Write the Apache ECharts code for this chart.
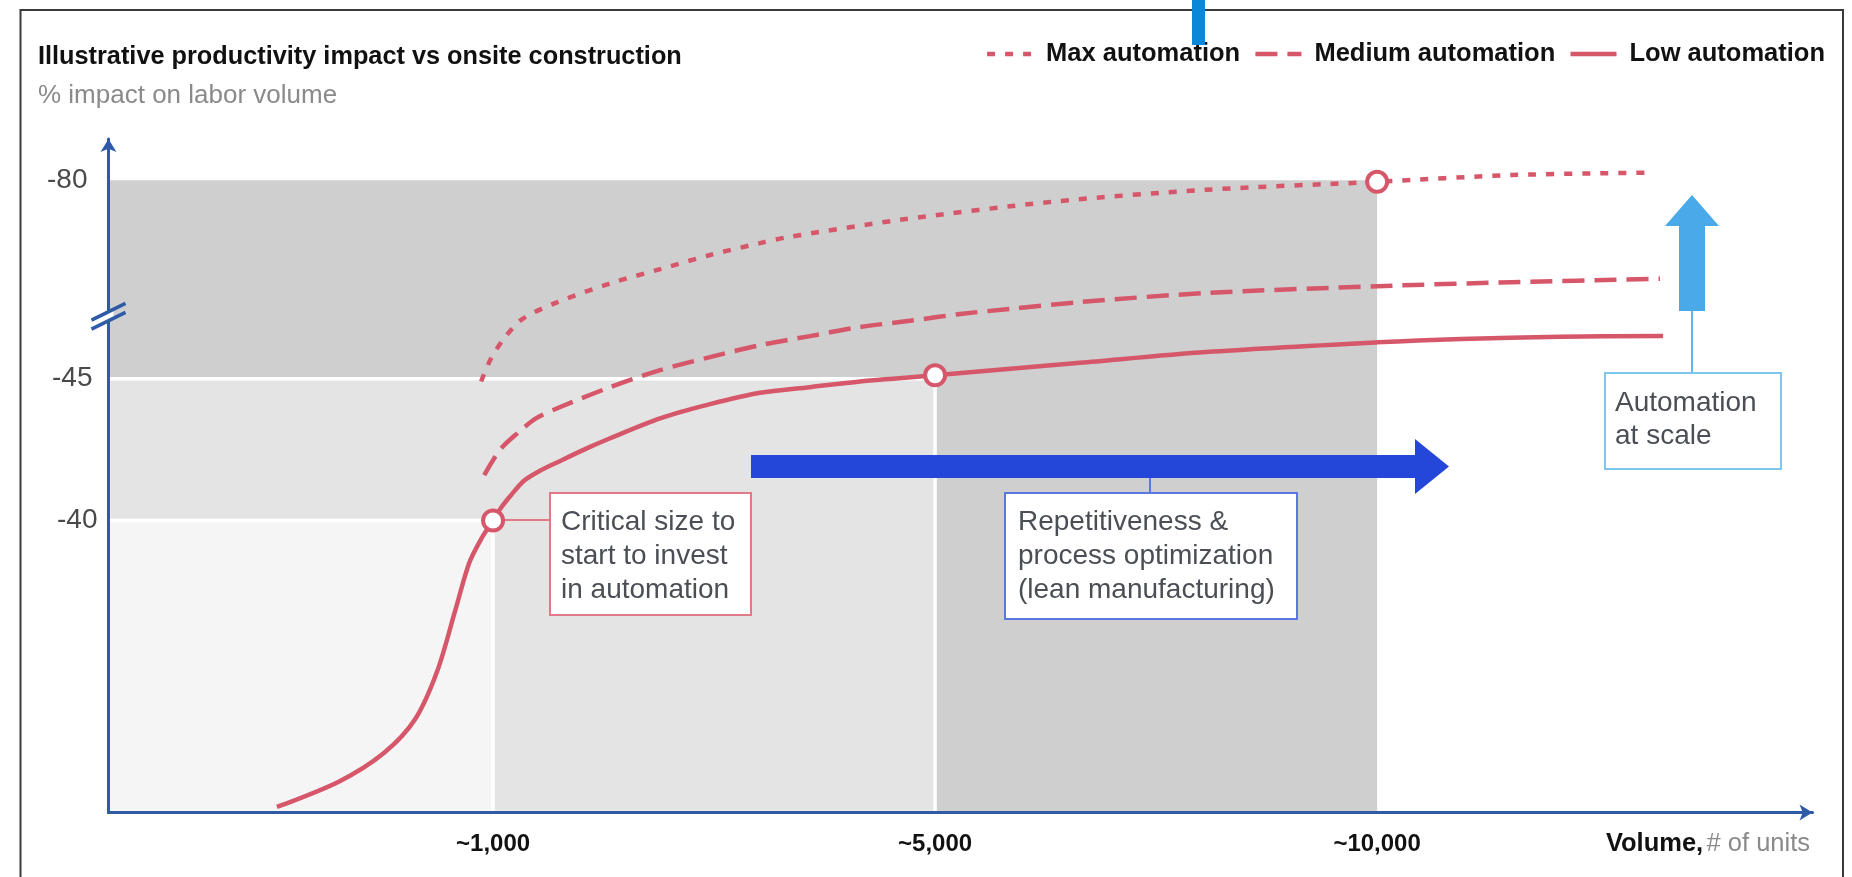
<!DOCTYPE html>
<html>
<head>
<meta charset="utf-8">
<script src="https://cdn.jsdelivr.net/npm/echarts@6/dist/echarts.min.js"></script>
<style>
html,body{margin:0;padding:0;background:#fff;}
#chart{width:1852px;height:877px;}
</style>
</head>
<body>
<div id="chart"></div>
<script>
// ---------- data ----------
const xTickValues = [1, 2, 3];
const xTickLabels = ['~1,000', '~5,000', '~10,000'];
const yTickValues = [-40, -45, -80];

const seriesNames = ['Max automation', 'Medium automation', 'Low automation'];

const maxX = [0.973, 0.995, 1.026, 1.066, 1.143, 1.265, 1.378, 1.491, 1.604, 1.663, 1.921, 2.267, 2.613, 3.0, 3.305, 3.611];
const maxY = [-44.9, -48.5, -52.2, -55.5, -58.4, -61.8, -64.3, -66.8, -68.9, -69.9, -73.0, -76.2, -78.3, -79.7, -80.9, -81.3];

const medX = [0.980, 1.016, 1.057, 1.097, 1.152, 1.265, 1.378, 1.491, 1.604, 1.717, 1.830, 1.943, 2.057, 2.170, 2.328, 2.613, 3.0, 3.305, 3.640];
const medY = [-41.6, -42.5, -43.1, -43.6, -44.0, -44.7, -46.5, -48.8, -50.9, -52.5, -54.1, -55.2, -56.4, -57.3, -58.5, -60.1, -61.3, -62.0, -62.6];

const lowX = [0.511, 0.652, 0.753, 0.824, 0.874, 0.914, 0.946, 0.975, 1.0, 1.018, 1.041, 1.070, 1.106, 1.152, 1.213, 1.265, 1.378, 1.491, 1.604, 1.717, 1.830, 1.905, 2.0, 2.131, 2.328, 2.613, 3.0, 3.190, 3.414, 3.647];
const lowY = [-29.9, -30.8, -31.8, -33.0, -34.7, -36.8, -38.5, -39.4, -40, -40.45, -40.9, -41.4, -41.75, -42.1, -42.55, -42.9, -43.6, -44.1, -44.5, -44.7, -44.9, -45.0, -45.6, -46.5, -47.8, -49.7, -51.4, -52.0, -52.4, -52.5];

const markerX = [1, 2, 3];
const markerY = [-40, -45.6, -79.7];

const zoneXEnd = [3, 2, 1];
const zoneYTop = [-80, -45, -40];

const breakValue = -56;

// ---------- axis helpers (broken y axis: -45..-80 compressed 5x) ----------
const BREAK_AT = 45, BREAK_RATIO = 5;
function toAxis(v) { const a = Math.abs(v); return a <= BREAK_AT ? a : BREAK_AT + (a - BREAK_AT) / BREAK_RATIO; }
function fromAxis(p) { return p <= BREAK_AT ? -p : -(BREAK_AT + (p - BREAK_AT) * BREAK_RATIO); }

const X_MIN = 0.13, X_MAX = 3.985;
const Y_MIN = 29.7, Y_MAX = 53.45;

const FONT = "'Liberation Sans', Arial, Helvetica, sans-serif";
const RED = '#d6566a';
const AXIS_BLUE = '#2f5aa8';
const ZONE_FILLS = ['#cfcfcf', '#e4e4e4', '#f5f5f5'];
const TEXT_GREY = '#4b4f55';

const pairs = (xs, ys) => xs.map((x, i) => [x, toAxis(ys[i])]);

const chart = echarts.init(document.getElementById('chart'), null, {renderer: 'canvas'});

const lineBase = (name, xs, ys, dash) => ({
  name, type: 'line', data: pairs(xs, ys), smooth: 0.3, symbol: 'none', z: 4,
  lineStyle: {color: RED, width: 4.5, type: dash, cap: 'butt'},
  itemStyle: {color: RED},
  emphasis: {disabled: true}
});

const option = {
  animation: false,
  backgroundColor: '#fff',
  title: {
    text: 'Illustrative productivity impact vs onsite construction',
    subtext: '% impact on labor volume',
    left: 38, top: 44.5, itemGap: 13, padding: 0,
    textStyle: {fontFamily: FONT, fontSize: 25.3, fontWeight: 'bold', color: '#111'},
    subtextStyle: {fontFamily: FONT, fontSize: 26, color: '#8a8a8a'}
  },
  legend: {
    data: seriesNames,
    right: 27, top: 41, itemWidth: 46, itemHeight: 14, itemGap: 13, padding: 0,
    selectedMode: false,
    itemStyle: {opacity: 0},
    lineStyle: {width: 4.5},
    textStyle: {fontFamily: FONT, fontSize: 25.5, fontWeight: 'bold', color: '#111', padding: [0, 0, 0, 8]}
  },
  grid: {left: 108.5, right: 39.5, top: 139, bottom: 64.4, containLabel: false},
  xAxis: {
    type: 'value', min: X_MIN, max: X_MAX, z: 3,
    axisLine: {show: true, lineStyle: {color: AXIS_BLUE, width: 3}, symbol: ['none', 'arrow'], symbolSize: [12, 13]},
    axisTick: {show: false},
    splitLine: {show: false},
    axisLabel: {
      customValues: xTickValues,
      formatter: v => xTickLabels[xTickValues.indexOf(Math.round(v))] || '',
      margin: 19.5, fontFamily: FONT, fontSize: 24, fontWeight: 'bold', color: '#111'
    }
  },
  yAxis: {
    type: 'value', min: Y_MIN, max: Y_MAX, z: 3,
    axisLine: {show: true, lineStyle: {color: AXIS_BLUE, width: 3}, symbol: ['none', 'arrow'], symbolSize: [12, 13]},
    axisTick: {show: false},
    splitLine: {show: false},
    axisLabel: {
      customValues: yTickValues.map(toAxis),
      formatter: v => {
        const lab = String(Math.round(fromAxis(v)));
        const k = {'-40': 'a', '-45': 'b', '-80': 'c'}[lab] || 'a';
        return '{' + k + '|' + lab + '}';
      },
      margin: 11,
      rich: {
        a: {fontFamily: FONT, fontSize: 28, color: '#4a4a4a', padding: [0, 0, 0, 0]},
        b: {fontFamily: FONT, fontSize: 28, color: '#4a4a4a', padding: [0, 5, 0, 0]},
        c: {fontFamily: FONT, fontSize: 28, color: '#4a4a4a', padding: [0, 10, 0, 0]}
      }
    }
  },
  series: [
    {
      name: 'zones', type: 'custom', silent: true, z: 1, clip: false,
      data: zoneXEnd.map((x, i) => [x, toAxis(zoneYTop[i])]),
      renderItem: (params, api) => {
        const tl = api.coord([X_MIN, api.value(1)]);
        const br = api.coord([api.value(0), Y_MIN]);
        const i = params.dataIndex;
        return {
          type: 'rect',
          shape: {x: tl[0], y: tl[1], width: br[0] - tl[0], height: br[1] - tl[1]},
          style: {fill: ZONE_FILLS[i], stroke: i ? '#ffffff' : null, lineWidth: i ? 3.5 : 0}
        };
      }
    },
    lineBase(seriesNames[0], maxX, maxY, [8, 10]),
    lineBase(seriesNames[1], medX, medY, [22, 10]),
    lineBase(seriesNames[2], lowX, lowY, 'solid'),
    {
      name: 'milestones', type: 'scatter', z: 6, silent: true,
      data: pairs(markerX, markerY),
      symbol: 'circle', symbolSize: 20,
      itemStyle: {color: '#ffffff', borderColor: RED, borderWidth: 4, opacity: 1}
    }
  ]
};

chart.setOption(option);

// ---------- annotations ----------
const [bx, by] = chart.convertToPixel({gridIndex: 0}, [X_MIN, toAxis(breakValue)]);
const s = -0.49;
const annText = (x, y, text, lh) => ({
  type: 'text', z: 20, silent: true,
  style: {x, y, text, fill: TEXT_GREY, fontFamily: FONT, fontSize: 28, lineHeight: lh, verticalAlign: 'top', align: 'left'}
});

chart.setOption({
  graphic: [
    // outer frame
    {type: 'polyline', z: 30, silent: true, shape: {points: [[20.5, 877], [20.5, 10], [1843, 10], [1843, 877]]},
     style: {stroke: '#3a3a3a', lineWidth: 2, fill: null}},
    {type: 'rect', z: 31, silent: true, shape: {x: 1192, y: 0, width: 13, height: 45}, style: {fill: '#0a87d9'}},

    // axis break
    {type: 'group', x: bx, y: by, z: 25, children: [
      {type: 'polygon', z: 25, shape: {points: [[-5, -4.5 - s * 5], [5, -4.5 + s * 5], [5, 4.5 + s * 5], [-5, 4.5 - s * 5]]},
       style: {fill: '#ffffff'}},
      {type: 'line', z: 26, shape: {x1: -17, y1: -4.5 - s * 17, x2: 17, y2: -4.5 + s * 17}, style: {stroke: AXIS_BLUE, lineWidth: 3.5}},
      {type: 'line', z: 26, shape: {x1: -17, y1: 4.5 - s * 17, x2: 17, y2: 4.5 + s * 17}, style: {stroke: AXIS_BLUE, lineWidth: 3.5}}
    ]},

    // critical size callout
    {type: 'line', z: 5, silent: true, shape: {x1: 500, y1: 520, x2: 550, y2: 520}, style: {stroke: '#e07a88', lineWidth: 2}},
    {type: 'rect', z: 19, silent: true, shape: {x: 550, y: 493, width: 201, height: 122}, style: {fill: '#fff', stroke: '#e07a88', lineWidth: 2}},
    annText(561, 505, 'Critical size to\nstart to invest\nin automation', 34),

    // repetitiveness arrow + callout
    {type: 'polygon', z: 18, silent: true,
     shape: {points: [[751, 455], [1415, 455], [1415, 439], [1449, 466.5], [1415, 494], [1415, 478], [751, 478]]},
     style: {fill: '#2447d9'}},
    {type: 'line', z: 18, silent: true, shape: {x1: 1150, y1: 478, x2: 1150, y2: 493}, style: {stroke: '#5b78e0', lineWidth: 2}},
    {type: 'rect', z: 19, silent: true, shape: {x: 1005, y: 493, width: 292, height: 126}, style: {fill: '#fff', stroke: '#5b78e0', lineWidth: 2}},
    annText(1018, 505, 'Repetitiveness &\nprocess optimization\n(lean manufacturing)', 34),

    // automation at scale arrow + callout
    {type: 'polygon', z: 18, silent: true,
     shape: {points: [[1679, 311], [1679, 226], [1665, 226], [1692, 195], [1719, 226], [1705, 226], [1705, 311]]},
     style: {fill: '#4aa9e9'}},
    {type: 'line', z: 18, silent: true, shape: {x1: 1692, y1: 311, x2: 1692, y2: 373}, style: {stroke: '#62b8ec', lineWidth: 2}},
    {type: 'rect', z: 19, silent: true, shape: {x: 1605, y: 373, width: 176, height: 96}, style: {fill: '#fff', stroke: '#7fc6ee', lineWidth: 2}},
    annText(1615, 386.5, 'Automation\nat scale', 33),

    // x axis name
    {type: 'text', z: 20, silent: true,
     style: {x: 1810, y: 844, align: 'right', verticalAlign: 'middle',
       text: '{b|Volume,} {g|# of units}',
       rich: {
         b: {fontFamily: FONT, fontSize: 25.5, fontWeight: 'bold', fill: '#111'},
         g: {fontFamily: FONT, fontSize: 25.5, fill: '#8a8a8a'}
       }}}
  ]
});
</script>
</body>
</html>
